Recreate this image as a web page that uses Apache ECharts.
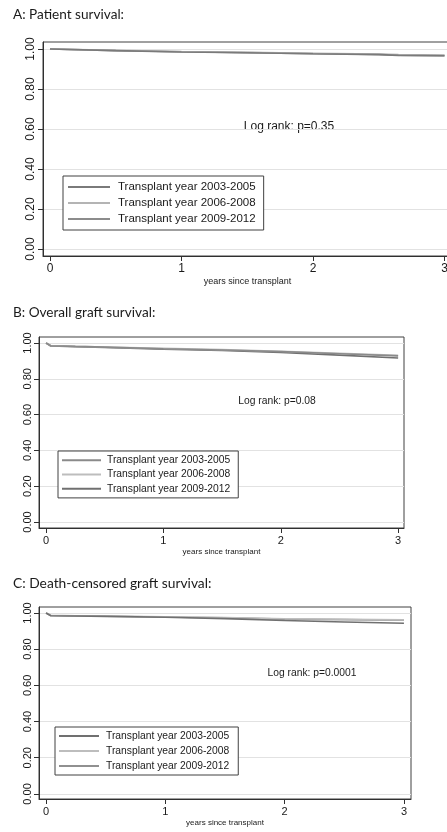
<!DOCTYPE html>
<html><head><meta charset="utf-8">
<script src="https://cdn.jsdelivr.net/npm/echarts@6/dist/echarts.min.js"></script>
<style>html,body{margin:0;padding:0;background:#fff}#c{width:447px;height:832px}</style>
</head><body><div id="c"></div>
<script>
// ---- data ----
const seriesNames = ['Transplant year 2003-2005', 'Transplant year 2006-2008', 'Transplant year 2009-2012'];
const yTicks = [0, 0.2, 0.4, 0.6, 0.8, 1.0];
const xTicks = [0, 1, 2, 3];
const panelTitles = ['A: Patient survival:', 'B: Overall graft survival:', 'C: Death-censored graft survival:'];
const logRankTexts = ['Log rank: p=0.35', 'Log rank: p=0.08', 'Log rank: p=0.0001'];
const xAxisName = 'years since transplant';

// Panel A: patient survival
const timesA = [0, 0.5, 1, 1.5, 2, 2.5, 2.65, 3];
const patient0305 = [1, 0.992, 0.985, 0.981, 0.976, 0.972, 0.968, 0.966];
const patient0608 = [1, 0.993, 0.987, 0.983, 0.979, 0.975, 0.972, 0.970];
const patient0912 = [1, 0.992, 0.986, 0.982, 0.977, 0.973, 0.969, 0.967];

// Panel B: overall graft survival
const timesB = [0, 0.04, 0.25, 0.5, 1, 1.5, 2, 2.5, 3];
const graft0305 = [1, 0.985, 0.981, 0.977, 0.968, 0.961, 0.952, 0.940, 0.928];
const graft0608 = [1, 0.986, 0.982, 0.978, 0.970, 0.963, 0.954, 0.942, 0.931];
const graft0912 = [1, 0.983, 0.979, 0.975, 0.966, 0.958, 0.947, 0.932, 0.916];

// Panel C: death-censored graft survival
const timesC = [0, 0.04, 0.25, 0.5, 1, 1.5, 2, 2.5, 3];
const dcgraft0305 = [1, 0.985, 0.983, 0.981, 0.976, 0.969, 0.958, 0.950, 0.943];
const dcgraft0608 = [1, 0.987, 0.985, 0.983, 0.979, 0.975, 0.968, 0.965, 0.962];
const dcgraft0912 = [1, 0.986, 0.984, 0.982, 0.978, 0.973, 0.966, 0.963, 0.960];

// ---- layout / style ----
const panels = [
  { grid: {left: 43, top: 42, width: 409, height: 214}, xr: [-0.053, 3.057], yr: [-0.035, 1.035],
    times: timesA, vals: [patient0305, patient0608, patient0912],
    colors: ['#7a7a7a', '#b4b4b4', '#8c8c8c'],
    tick: 12, leg: {left: 63, top: 176, fs: 11.5, lh: 16, w: 42, pad: [3, 8, 3, 5], tp: 3},
    nameFs: 9, nameGap: 21, lrFs: 12, lr: [289, 127], title: [13, 15], titleFs: 13.6 },
  { grid: {left: 39, top: 337, width: 365, height: 191}, xr: [-0.06, 3.05], yr: [-0.0335, 1.0335],
    times: timesB, vals: [graft0305, graft0608, graft0912],
    colors: ['#8a8a8a', '#bdbdbd', '#707070'],
    tick: 11, leg: {left: 58, top: 451, fs: 10.3, lh: 14.3, w: 39, pad: [2, 8, 2, 4], tp: 1},
    nameFs: 8, nameGap: 20, lrFs: 10.3, lr: [277, 401], title: [13, 313], titleFs: 13.6 },
  { grid: {left: 39, top: 607, width: 372, height: 192}, xr: [-0.059, 3.059], yr: [-0.028, 1.033],
    times: timesC, vals: [dcgraft0305, dcgraft0608, dcgraft0912],
    colors: ['#707070', '#bdbdbd', '#909090'],
    tick: 11, leg: {left: 55, top: 727, fs: 10.3, lh: 15, w: 40, pad: [1.5, 9, 1.5, 4], tp: 2},
    nameFs: 8, nameGap: 20, lrFs: 10.3, lr: [312, 673], title: [13, 584], titleFs: 13.8 }
];

const FONT = 'Liberation Sans, Arial, sans-serif';
const TXT = '#1a1a1a';
const grids = [], xAxes = [], yAxes = [], series = [], legends = [], graphics = [];

panels.forEach((p, i) => {
  grids.push(Object.assign({show: true, borderColor: '#404040', borderWidth: 1,
    backgroundColor: 'transparent', outerBoundsMode: 'none', containLabel: false}, p.grid));
  xAxes.push({
    type: 'value', gridIndex: i, min: p.xr[0], max: p.xr[1],
    name: xAxisName, nameLocation: 'middle', nameGap: p.nameGap,
    nameTextStyle: {fontSize: p.nameFs, fontFamily: FONT, color: TXT},
    axisLine: {onZero: false, lineStyle: {color: '#303030', width: 1}},
    axisTick: {show: true, length: 5, customValues: xTicks, lineStyle: {color: '#303030'}},
    axisLabel: {customValues: xTicks, margin: 7, fontSize: p.tick, fontFamily: FONT, color: TXT,
      formatter: v => String(Math.round(v))},
    splitLine: {show: false}
  });
  yAxes.push({
    type: 'value', gridIndex: i, min: p.yr[0], max: p.yr[1],
    axisLine: {show: true, onZero: false, lineStyle: {color: '#303030', width: 1}},
    axisTick: {show: true, length: 5, customValues: yTicks, lineStyle: {color: '#303030'}},
    axisLabel: {customValues: yTicks, rotate: 90, margin: 6, fontSize: p.tick, fontFamily: FONT, color: TXT,
      formatter: v => v.toFixed(2)},
    splitLine: {show: true, lineStyle: {color: '#e2e2e2', width: 1.2}}
  });
  seriesNames.forEach((name, k) => {
    series.push({
      type: 'line', name: name, xAxisIndex: i, yAxisIndex: i,
      data: p.times.map((t, j) => [t, p.vals[k][j]]),
      symbol: 'none', color: p.colors[k],
      lineStyle: {width: 1.6, color: p.colors[k]},
      emphasis: {disabled: true}, silent: true, z: 3 - k + 2
    });
  });
  legends.push({
    orient: 'vertical', left: p.leg.left, top: p.leg.top,
    icon: 'rect', itemWidth: p.leg.w, itemHeight: 2, itemGap: 0,
    padding: p.leg.pad, borderColor: '#404040', borderWidth: 1, backgroundColor: '#fff',
    selectedMode: false,
    textStyle: {fontSize: p.leg.fs, lineHeight: p.leg.lh, fontFamily: FONT, color: TXT, padding: [0, 0, 0, p.leg.tp]},
    data: seriesNames.map((n, k) => ({name: n, itemStyle: {color: p.colors[k]}}))
  });
  graphics.push({type: 'text', x: p.title[0], y: p.title[1],
    style: {text: panelTitles[i], fontSize: p.titleFs, fontFamily: 'Lato, Noto Sans, sans-serif', fill: TXT,
      verticalAlign: 'middle', align: 'left'}});
  graphics.push({type: 'text', x: p.lr[0], y: p.lr[1],
    style: {text: logRankTexts[i], fontSize: p.lrFs, fontFamily: FONT, fill: TXT,
      verticalAlign: 'middle', align: 'center'}});
});

const chart = echarts.init(document.getElementById('c'), null, {renderer: 'canvas'});
chart.setOption({
  animation: false, backgroundColor: '#fff',
  grid: grids, xAxis: xAxes, yAxis: yAxes, series: series, legend: legends, graphic: graphics
});
</script></body></html>
